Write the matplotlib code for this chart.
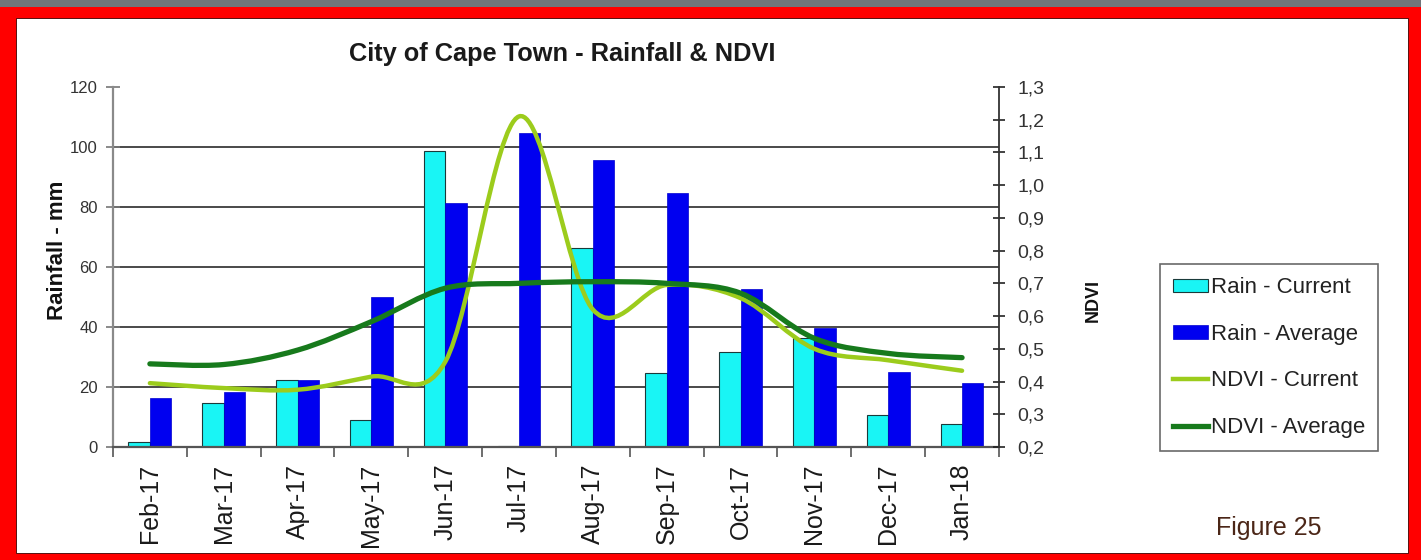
import matplotlib.pyplot as plt
import numpy as np
from matplotlib.lines import Line2D
from matplotlib.patches import PathPatch, Rectangle
from matplotlib.path import Path

plt.rcParams["font.family"] = ["Liberation Sans", "DejaVu Sans"]

months = ["Feb-17", "Mar-17", "Apr-17", "May-17", "Jun-17", "Jul-17",
          "Aug-17", "Sep-17", "Oct-17", "Nov-17", "Dec-17", "Jan-18"]
rain_current = [1.8, 14.6, 22.3, 9.0, 98.7, 0.4, 66.4, 24.6, 31.8, 36.2, 10.7, 7.7]
rain_average = [16.4, 18.3, 22.3, 50.1, 81.4, 104.8, 95.7, 84.8, 52.6, 39.6, 24.9, 21.2]
ndvi_current = [0.395, 0.38, 0.375, 0.415, 0.46, 1.21, 0.62, 0.695, 0.655, 0.50, 0.465, 0.433]
ndvi_average = [0.454, 0.452, 0.496, 0.583, 0.685, 0.70, 0.705, 0.70, 0.67, 0.532, 0.486, 0.473]

rain_ticks = [0, 20, 40, 60, 80, 100, 120]
ndvi_ticks = [0.2, 0.3, 0.4, 0.5, 0.6, 0.7, 0.8, 0.9, 1.0, 1.1, 1.2, 1.3]


def smooth_path(xs, ys):
    """
    Builds an Excel style smoothed line: one cubic bezier between each pair of points.
    """
    pts = np.column_stack((xs, ys)).astype(float)
    padded = np.vstack((pts[0], pts, pts[-1]))
    verts = [pts[0]]
    codes = [Path.MOVETO]
    for i in range(len(pts) - 1):
        p0, p1, p2, p3 = padded[i], padded[i + 1], padded[i + 2], padded[i + 3]
        verts += [p1 + (p2 - p0) / 6, p2 - (p3 - p1) / 6, p2]
        codes += [Path.CURVE4] * 3
    return Path(verts, codes)


fig = plt.figure(figsize=(14.21, 5.6), dpi=100, facecolor="#ff0000")

# Slide frame: grey strip on top, red border, white panel (kept behind the axes)
fig.patches.append(Rectangle((0, 0.9875), 1, 0.0125, transform=fig.transFigure,
                             facecolor="#70767b", edgecolor="none", zorder=-2))
fig.patches.append(Rectangle((0.0113, 0.0125), 0.9795, 0.9554, transform=fig.transFigure,
                             facecolor="white", edgecolor="#3a0000", linewidth=0.6, zorder=-2))

ax = fig.add_axes([0.0795, 0.2018, 0.6235, 0.6429])
ax.set_facecolor("none")
ax2 = ax.twinx()
ax2.set_facecolor("none")

x = np.arange(len(months))
width = 0.29
ax.bar(x - width / 2, rain_current, width, color="#19f5f5", edgecolor="#1a3a3a",
       linewidth=0.8, label="Rain - Current", zorder=2)
ax.bar(x + width / 2, rain_average, width, color="#0000f0", edgecolor="#0000d0",
       linewidth=0.5, label="Rain - Average", zorder=2)

ax.set_xlim(-0.5, len(months) - 0.5)
ax.set_ylim(0, 120)
ax.set_yticks(rain_ticks)
ax.set_axisbelow(True)
for v in rain_ticks[1:-1]:
    ax.axhline(v, color="#4a4a4a", linewidth=1.4, zorder=0)

ax.set_xticks(x)
ax.set_xticklabels(months, rotation=90, fontsize=18, color="#1a1a1a")
ax.set_xticks(np.arange(-0.5, len(months)), minor=True)
ax.tick_params(axis="x", which="major", length=0, pad=12)
ax.tick_params(axis="x", which="minor", length=7, direction="out", color="#555555", width=1.2)
ax.tick_params(axis="y", length=10, direction="inout", color="#777777", width=1.2,
               labelsize=12, labelcolor="#333333", pad=6)

for side in ["top", "right"]:
    ax.spines[side].set_visible(False)
ax.spines["left"].set_color("#8a8a8a")
ax.spines["left"].set_linewidth(1.6)
ax.spines["bottom"].set_color("#555555")
ax.spines["bottom"].set_linewidth(1.6)

ax.set_ylabel("Rainfall - mm", fontsize=16, fontweight="bold", color="#111111")
ax.yaxis.set_label_coords(-0.051, 0.547)

# NDVI on the secondary axis, drawn as smoothed curves
ax2.set_ylim(0.2, 1.3)
ax2.set_yticks(ndvi_ticks)
ax2.set_yticklabels([f"{v:.1f}".replace(".", ",") for v in ndvi_ticks])
ax2.tick_params(axis="y", length=9, direction="inout", color="#222222", width=1.2,
                labelsize=14, labelcolor="#333333", pad=9)
for side in ["top", "left", "bottom"]:
    ax2.spines[side].set_visible(False)
ax2.spines["right"].set_color("#333333")
ax2.spines["right"].set_linewidth(1.3)

ax2.add_patch(PathPatch(smooth_path(x, ndvi_current), fill=False, edgecolor="#9ccc1c",
                        linewidth=3.2, capstyle="round", zorder=3))
ax2.add_patch(PathPatch(smooth_path(x, ndvi_average), fill=False, edgecolor="#177a1c",
                        linewidth=3.8, capstyle="round", zorder=4))

ax2.set_ylabel("NDVI", fontsize=13, fontweight="bold", color="#111111")
ax2.yaxis.set_label_coords(1.097, 0.408)

fig.text(0.3955, 0.903, "City of Cape Town - Rainfall & NDVI", fontsize=18.3,
         fontweight="bold", color="#1a1a1a", ha="center", va="center")
fig.text(0.893, 0.057, "Figure 25", fontsize=18, color="#4b2617", ha="center", va="center")

handles = [
    Rectangle((0, 0), 1, 1, facecolor="#19f5f5", edgecolor="#1a3a3a", linewidth=0.8),
    Rectangle((0, 0), 1, 1, facecolor="#0000f0", edgecolor="#0000d0", linewidth=0.5),
    Line2D([], [], color="#9ccc1c", linewidth=3.2),
    Line2D([], [], color="#177a1c", linewidth=3.8),
]
labels = ["Rain - Current", "Rain - Average", "NDVI - Current", "NDVI - Average"]
leg = fig.legend(handles, labels, loc="upper left", bbox_to_anchor=(0.816, 0.5286),
                 bbox_transform=fig.transFigure, fontsize=16, frameon=True, fancybox=False,
                 handlelength=1.6, handleheight=0.55, handletextpad=0.1, labelspacing=1.15,
                 borderpad=0.6, borderaxespad=0)
leg.get_frame().set_edgecolor("#444444")
leg.get_frame().set_linewidth(1.2)
for t in leg.get_texts():
    t.set_color("#222222")

fig.savefig("out.png", dpi=100, facecolor=fig.get_facecolor())
